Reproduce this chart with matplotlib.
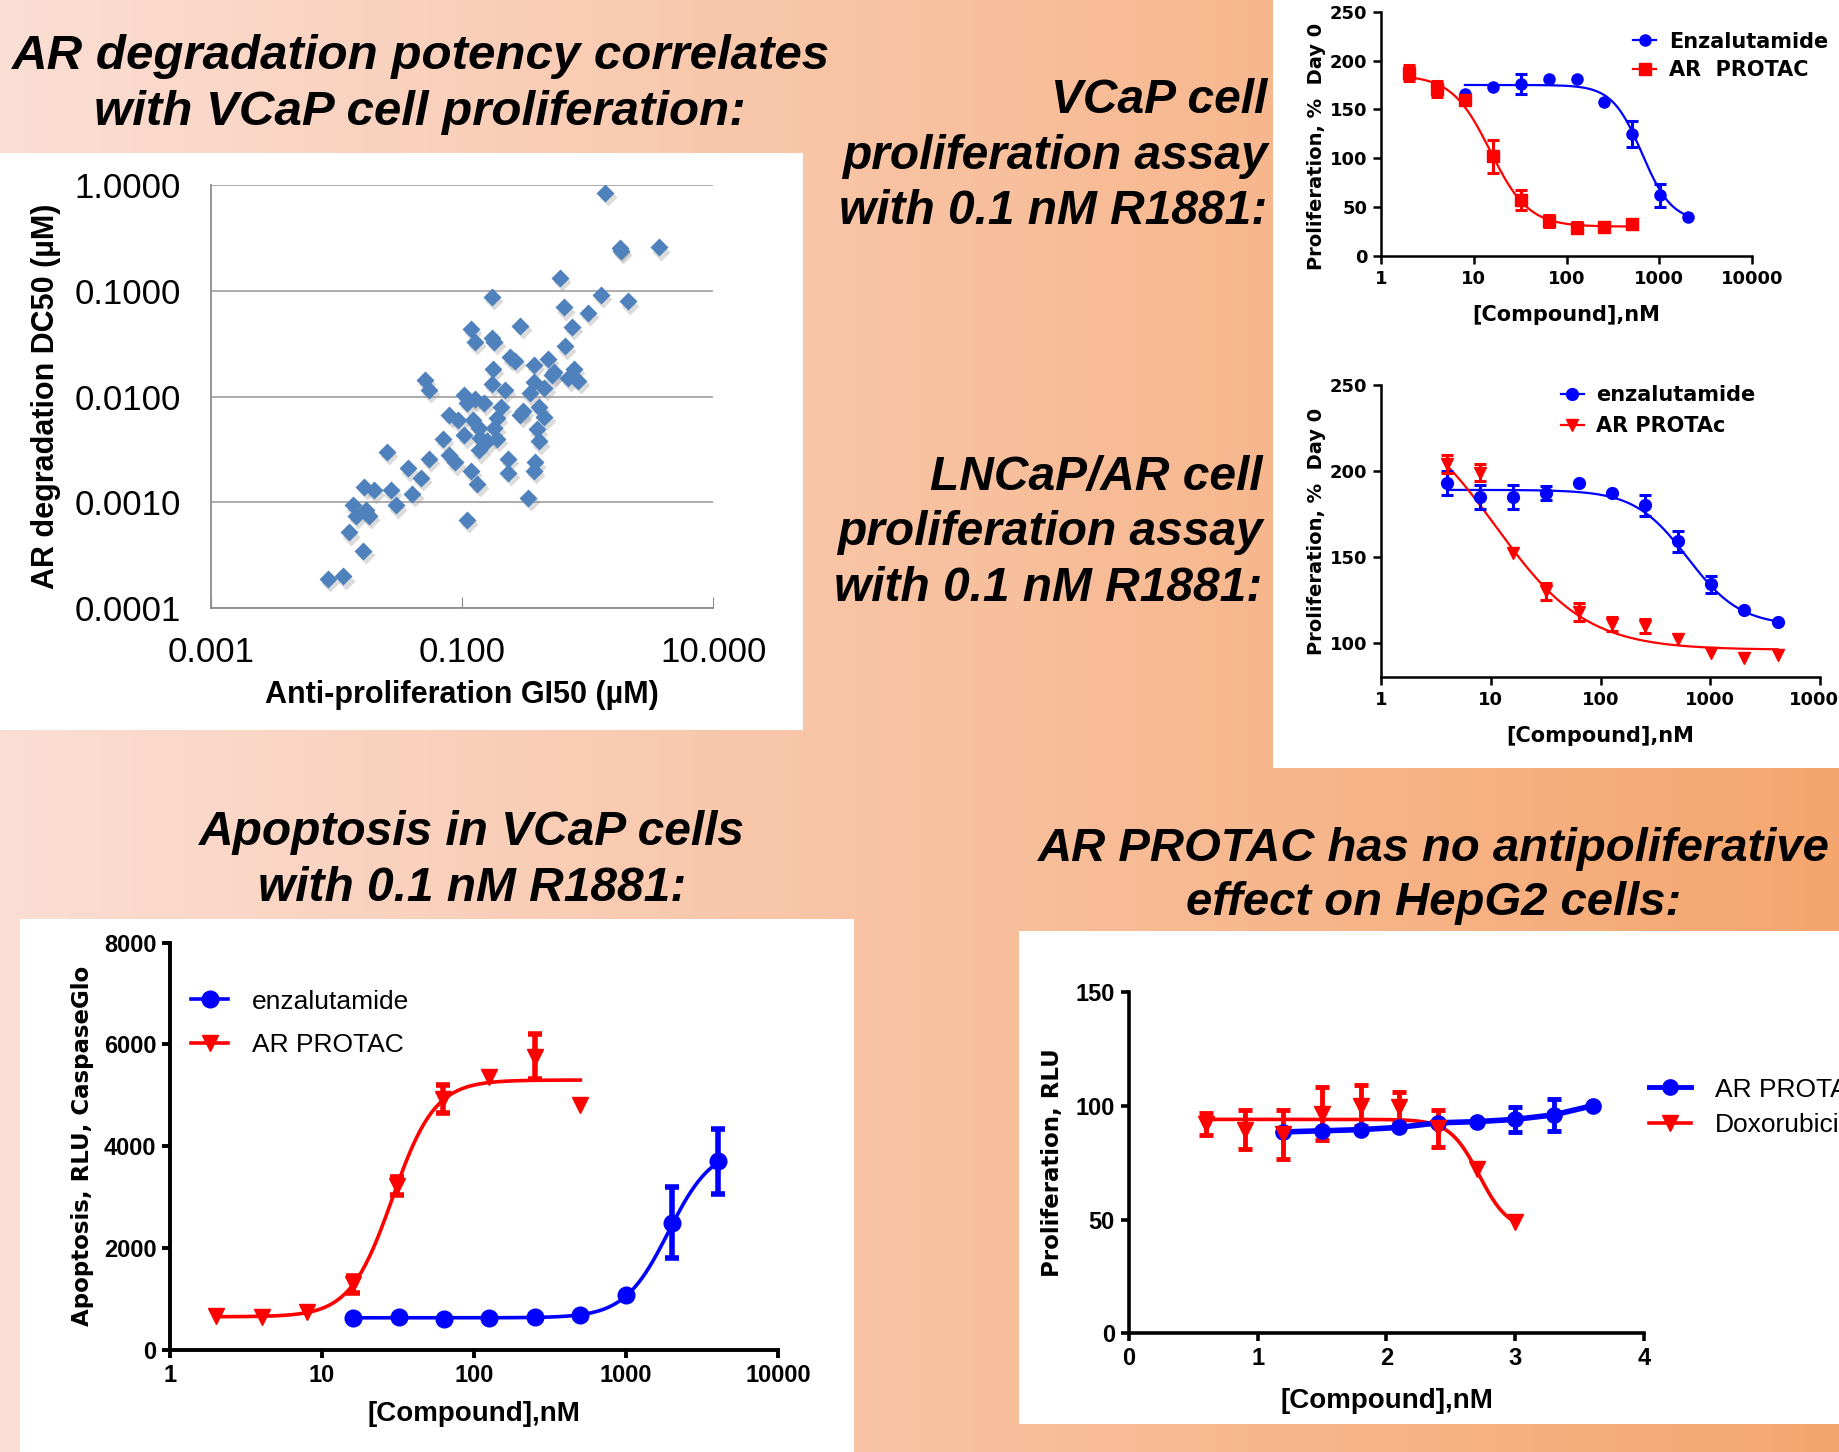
import numpy as np
import matplotlib
matplotlib.use('Agg')
import matplotlib.pyplot as plt
from matplotlib.lines import Line2D
from matplotlib.patches import Rectangle

# ---------------- data ----------------
# scatter: AR degradation DC50 vs anti-proliferation GI50 (uM)
gi50 = [1.38, 1.81, 1.83, 3.65, 0.60, 1.26, 2.09, 0.171, 0.64, 1.0,
        0.75, 0.29, 0.117, 0.125, 0.171, 0.18, 0.66, 0.24, 0.264, 0.37,
        0.48, 0.175, 0.54, 0.78, 0.84, 0.70, 0.37, 0.45, 0.0506, 0.054,
        0.171, 0.218, 0.343, 0.104, 0.148, 0.109, 0.204, 0.41, 0.45, 0.29,
        0.079, 0.092, 0.122, 0.189, 0.135, 0.18, 0.39, 0.104, 0.139, 0.189,
        0.41, 0.070, 0.025, 0.054, 0.079, 0.087, 0.135, 0.156, 0.0368, 0.0468,
        0.117, 0.132, 0.233, 0.37, 0.38, 0.336, 0.027, 0.040, 0.0166, 0.0197,
        0.0134, 0.0295, 0.0171, 0.0141, 0.0179, 0.108, 0.0125, 0.0163, 0.0085, 0.0113,
        0.305, 0.125, 0.23, 0.52]
dc50 = [0.85, 0.254, 0.24, 0.26, 0.134, 0.092, 0.080, 0.088, 0.070, 0.062,
        0.046, 0.047, 0.044, 0.033, 0.036, 0.033, 0.030, 0.0237, 0.0219, 0.0201,
        0.0228, 0.0185, 0.017, 0.0185, 0.0142, 0.015, 0.0138, 0.0122, 0.0144, 0.0117,
        0.0133, 0.0117, 0.0108, 0.0105, 0.0088, 0.0088, 0.0080, 0.0080, 0.0065, 0.0067,
        0.0067, 0.0060, 0.0060, 0.0063, 0.0051, 0.0051, 0.0049, 0.0043, 0.0041, 0.0040,
        0.0038, 0.0040, 0.0030, 0.0026, 0.0028, 0.0024, 0.0031, 0.0038, 0.0021, 0.0017,
        0.0020, 0.0015, 0.0019, 0.0020, 0.0024, 0.0011, 0.0013, 0.0012, 0.0014, 0.0013,
        0.00094, 0.00094, 0.00085, 0.00075, 0.00075, 0.00068, 0.00052, 0.00035, 0.00019, 0.00020,
        0.0074, 0.0095, 0.0026, 0.0160]

# VCaP proliferation (% Day 0)
vcap_enz_conc = [8, 16, 32, 64, 128, 256, 512, 1024, 2048]
vcap_enz_val = [166, 173, 176, 181, 181, 158, 125, 62, 40]
vcap_enz_err = [0, 0, 10, 0, 0, 0, 13, 12, 0]
vcap_pro_conc = [2, 4, 8, 16, 32, 64, 128, 256, 512]
vcap_pro_val = [187, 171, 160, 102, 57, 36, 29, 30, 33]
vcap_pro_err = [8, 8, 3, 17, 10, 6, 6, 3, 3]
# fitted curves: value at low conc, value at high conc, midpoint, hill slope
vcap_enz_fit = [175, 35, 650, 2.7]
vcap_pro_fit = [185, 30, 15, 2.1]

# LNCaP/AR proliferation (% Day 0)
lncap_conc = [4, 8, 16, 32, 64, 128, 256, 512, 1024, 2048, 4096]
lncap_enz_val = [193, 185, 185, 187, 193, 187, 180, 159, 134, 119, 112]
lncap_enz_err = [7, 7, 7, 4, 0, 0, 6, 6, 5, 0, 0]
lncap_pro_val = [204, 199, 152, 130, 118, 111, 110, 102, 94, 91, 93]
lncap_pro_err = [5, 5, 0, 5, 5, 4, 4, 0, 0, 0, 0]
lncap_enz_fit = [189, 110, 620, 1.8]
lncap_pro_fit = [240, 96, 11, 1.05]

# apoptosis, RLU CaspaseGlo
apop_enz_conc = [16, 32, 63, 125, 250, 500, 1000, 2000, 4000]
apop_enz_val = [620, 640, 600, 630, 640, 690, 1085, 2500, 3700]
apop_enz_err = [0, 0, 0, 0, 0, 0, 0, 700, 640]
apop_pro_conc = [2, 4, 8, 16, 31, 62, 125, 250, 500]
apop_pro_val = [660, 645, 745, 1290, 3220, 4930, 5360, 5760, 4810]
apop_pro_err = [0, 0, 0, 170, 170, 280, 0, 440, 0]
apop_enz_fit = [630, 4000, 1900, 3.0]
apop_pro_fit = [650, 5300, 29, 3.1]

# HepG2 proliferation (x is log concentration)
hep_pro_logc = [1.2, 1.5, 1.8, 2.1, 2.4, 2.7, 3.0, 3.3, 3.6]
hep_pro_val = [88.5, 89, 89.5, 90.5, 92.5, 93, 94, 96, 100]
hep_pro_err = [0, 0, 0, 0, 0, 0, 5.5, 7, 0]
hep_dox_logc = [0.6, 0.9, 1.2, 1.5, 1.8, 2.1, 2.4, 2.7, 3.0]
hep_dox_val = [92, 89.5, 87.5, 96.5, 100, 99.5, 90, 72, 49]
hep_dox_err = [5, 8.6, 10.7, 11.7, 9, 6.6, 8, 0, 0]
hep_dox_fit = [94, 45, 10 ** 2.72, 3.8]

BLUE = '#0000FF'
RED = '#FF0000'
DIAMOND = '#4F81BD'
WIDE = 'DejaVu Sans'

plt.rcParams['font.family'] = 'Liberation Sans'

# layout measured on a 1568 x 1237 view of the slide
W, H = 1568.0, 1237.0


def rect(l, t, r, b):
    return [l / W, 1 - b / H, (r - l) / W, (b - t) / H]


def fx(x):
    return x / W


def fy(y):
    return 1 - y / H


def logistic(x, low, high, mid, hill):
    return high + (low - high) / (1 + (x / mid) ** hill)


def bars(ax, x, y, err, color, lw, cap):
    x, y, err = np.asarray(x, float), np.asarray(y, float), np.asarray(err, float)
    m = err > 0
    ax.errorbar(x[m], y[m], yerr=err[m], fmt='none', ecolor=color,
                elinewidth=lw, capsize=cap, capthick=lw, zorder=3)


def prism(ax, lw, size, family):
    ax.set_facecolor('none')
    for s in ['top', 'right']:
        ax.spines[s].set_visible(False)
    for s in ['left', 'bottom']:
        ax.spines[s].set_linewidth(lw)
    ax.minorticks_off()
    ax.tick_params(direction='out', width=lw, length=6, labelsize=size, pad=4)
    plt.setp(ax.get_xticklabels() + ax.get_yticklabels(), fontweight='bold', family=family)


fig = plt.figure(figsize=(18.4, 14.52), dpi=100)

# background gradient + white panels
bg = fig.add_axes([0, 0, 1, 1], zorder=-10)
g = np.linspace(0, 1, 512)
left = np.array([251, 222, 212]) / 255
right = np.array([245, 166, 110]) / 255
grad = left[None, :] * (1 - g[:, None]) + right[None, :] * g[:, None]
bg.imshow(grad[None, :, :], aspect='auto', extent=[0, W, H, 0])
for (l, t, r, b) in [(0, 130, 684, 622), (1085, 0, 1568, 654),
                     (17, 783, 728, 1237), (868, 793, 1568, 1213)]:
    bg.add_patch(Rectangle((l, t), r - l, b - t, color='white', lw=0))
bg.set_xlim(0, W)
bg.set_ylim(H, 0)
bg.axis('off')

title_kw = dict(fontweight='bold', style='italic', color='black', linespacing=1.3)
fig.text(fx(358), fy(72), 'AR degradation potency correlates\nwith VCaP cell proliferation:',
         ha='center', va='center', multialignment='center', fontsize=35.5, **title_kw)
fig.text(fx(1080), fy(133), 'VCaP cell\nproliferation assay\nwith 0.1 nM R1881:',
         ha='right', va='center', multialignment='right', fontsize=34.5, **title_kw)
fig.text(fx(1076), fy(454), 'LNCaP/AR cell\nproliferation assay\nwith 0.1 nM R1881:',
         ha='right', va='center', multialignment='right', fontsize=34.5, **title_kw)
fig.text(fx(402), fy(733), 'Apoptosis in VCaP cells\nwith 0.1 nM R1881:',
         ha='center', va='center', multialignment='center', fontsize=34.5, **title_kw)
fig.text(fx(1222), fy(746), 'AR PROTAC has no antipoliferative\neffect on HepG2 cells:',
         ha='center', va='center', multialignment='center', fontsize=34, **title_kw)

# ---------------- scatter ----------------
ax1 = fig.add_axes(rect(180, 158, 608, 518))
ax1.set_xscale('log')
ax1.set_yscale('log')
ax1.plot(np.array(gi50) * 1.04, np.array(dc50) / 1.1, 'D', color='#9a9a9a', alpha=0.35,
         ms=9.5, mec='none', zorder=2)
ax1.plot(gi50, dc50, 'D', color=DIAMOND, ms=9.5, mec='none', zorder=3)
ax1.set_xlim(0.001, 10)
ax1.set_ylim(0.0001, 1)
ax1.set_xticks([0.001, 0.1, 10], labels=['0.001', '0.100', '10.000'])
ax1.set_yticks([0.0001, 0.001, 0.01, 0.1, 1],
               labels=['0.0001', '0.0010', '0.0100', '0.1000', '1.0000'])
ax1.minorticks_off()
ax1.yaxis.grid(True, color='#a6a6a6', lw=1.3)
ax1.set_axisbelow(True)
for s in ['top', 'right']:
    ax1.spines[s].set_visible(False)
for s in ['left', 'bottom']:
    ax1.spines[s].set_color('#8c8c8c')
    ax1.spines[s].set_linewidth(1.3)
ax1.tick_params(axis='y', length=0, pad=22, labelsize=25)
ax1.tick_params(axis='x', direction='in', length=8, color='#8c8c8c', pad=20, labelsize=25)
ax1.set_xlabel('Anti-proliferation GI50 (µM)', fontsize=22, fontweight='bold')
ax1.set_ylabel('AR degradation DC50 (µM)', fontsize=22, fontweight='bold')
ax1.xaxis.set_label_coords(0.5, -0.17)
ax1.yaxis.set_label_coords(-0.30, 0.5)

logx_ticks = [1, 10, 100, 1000, 10000]
logx_labels = ['1', '10', '100', '1000', '10000']

# ---------------- VCaP ----------------
ax2 = fig.add_axes(rect(1177, 10, 1493, 218))
ax2.set_xscale('log')
xs = np.logspace(np.log10(8), np.log10(2048), 300)
ax2.plot(xs, logistic(xs, *vcap_enz_fit), color=BLUE, lw=1.6)
xs = np.logspace(np.log10(2), np.log10(512), 300)
ax2.plot(xs, logistic(xs, *vcap_pro_fit), color=RED, lw=1.6)
bars(ax2, vcap_enz_conc, vcap_enz_val, vcap_enz_err, BLUE, 2.2, 4)
bars(ax2, vcap_pro_conc, vcap_pro_val, vcap_pro_err, RED, 2.2, 4)
ax2.plot(vcap_enz_conc, vcap_enz_val, 'o', color=BLUE, ms=8, zorder=4)
ax2.plot(vcap_pro_conc, vcap_pro_val, 's', color=RED, ms=8, zorder=4)
ax2.set_xlim(1, 10000)
ax2.set_ylim(0, 250)
ax2.set_xticks(logx_ticks, labels=logx_labels)
ax2.set_yticks([0, 50, 100, 150, 200, 250])
prism(ax2, 1.8, 13, WIDE)
ax2.set_xlabel('[Compound],nM', fontsize=15, fontweight='bold', family=WIDE)
ax2.set_ylabel('Proliferation, %  Day 0', fontsize=14, fontweight='bold', family=WIDE)
ax2.xaxis.set_label_coords(0.5, -0.2)
ax2.yaxis.set_label_coords(-0.15, 0.45)
ax2.legend(handles=[Line2D([], [], color=BLUE, marker='o', ms=8, lw=1.6),
                    Line2D([], [], color=RED, marker='s', ms=8, lw=1.6)],
           labels=['Enzalutamide', 'AR  PROTAC'], loc='upper left',
           bbox_to_anchor=(fx(1392), fy(27)), bbox_transform=fig.transFigure,
           frameon=False, handlelength=1.1, handletextpad=0.6, borderpad=0,
           borderaxespad=0, labelspacing=0.4, prop=dict(size=15, weight='bold', family=WIDE))

# ---------------- LNCaP/AR ----------------
ax3 = fig.add_axes(rect(1177, 328, 1551, 577))
ax3.set_xscale('log')
xs = np.logspace(np.log10(4), np.log10(4096), 300)
ax3.plot(xs, logistic(xs, *lncap_enz_fit), color=BLUE, lw=1.6)
ax3.plot(xs, logistic(xs, *lncap_pro_fit), color=RED, lw=1.6)
bars(ax3, lncap_conc, lncap_enz_val, lncap_enz_err, BLUE, 2.2, 4)
bars(ax3, lncap_conc, lncap_pro_val, lncap_pro_err, RED, 2.2, 4)
ax3.plot(lncap_conc, lncap_enz_val, 'o', color=BLUE, ms=8.5, zorder=4)
ax3.plot(lncap_conc, lncap_pro_val, 'v', color=RED, ms=8.5, zorder=4)
ax3.set_xlim(1, 10000)
ax3.set_ylim(80, 250)
ax3.set_xticks(logx_ticks, labels=logx_labels)
ax3.set_yticks([100, 150, 200, 250])
prism(ax3, 1.8, 13, WIDE)
ax3.set_xlabel('[Compound],nM', fontsize=15, fontweight='bold', family=WIDE)
ax3.set_ylabel('Proliferation, %  Day 0', fontsize=14, fontweight='bold', family=WIDE)
ax3.xaxis.set_label_coords(0.5, -0.165)
ax3.yaxis.set_label_coords(-0.125, 0.5)
ax3.legend(handles=[Line2D([], [], color=BLUE, marker='o', ms=8.5, lw=1.6),
                    Line2D([], [], color=RED, marker='v', ms=8.5, lw=1.6)],
           labels=['enzalutamide', 'AR PROTAc'], loc='upper left',
           bbox_to_anchor=(fx(1330), fy(328)), bbox_transform=fig.transFigure,
           frameon=False, handlelength=1.1, handletextpad=0.6, borderpad=0,
           borderaxespad=0, labelspacing=0.55, prop=dict(size=15, weight='bold', family=WIDE))

# ---------------- apoptosis ----------------
ax4 = fig.add_axes(rect(145, 803, 663, 1150))
ax4.set_xscale('log')
xs = np.logspace(np.log10(2), np.log10(500), 300)
ax4.plot(xs, logistic(xs, *apop_pro_fit), color=RED, lw=2.6)
xs = np.logspace(np.log10(16), np.log10(4000), 300)
ax4.plot(xs, logistic(xs, *apop_enz_fit), color=BLUE, lw=2.6)
bars(ax4, apop_enz_conc, apop_enz_val, apop_enz_err, BLUE, 4, 5)
bars(ax4, apop_pro_conc, apop_pro_val, apop_pro_err, RED, 4, 5)
ax4.plot(apop_enz_conc, apop_enz_val, 'o', color=BLUE, ms=12, zorder=4)
ax4.plot(apop_pro_conc, apop_pro_val, 'v', color=RED, ms=12, zorder=4)
ax4.set_xlim(1, 10000)
ax4.set_ylim(0, 8000)
ax4.set_xticks(logx_ticks, labels=logx_labels)
ax4.set_yticks([0, 2000, 4000, 6000, 8000])
prism(ax4, 2.8, 17, 'Liberation Sans')
ax4.set_xlabel('[Compound],nM', fontsize=20, fontweight='bold')
ax4.set_ylabel('Apoptosis, RLU, CaspaseGlo', fontsize=16.5, fontweight='bold', family=WIDE)
ax4.xaxis.set_label_coords(0.5, -0.125)
ax4.yaxis.set_label_coords(-0.125, 0.5)
ax4.legend(handles=[Line2D([], [], color=BLUE, marker='o', ms=12, lw=2.6),
                    Line2D([], [], color=RED, marker='v', ms=12, lw=2.6)],
           labels=['enzalutamide', 'AR PROTAC'], loc='upper left',
           bbox_to_anchor=(fx(163), fy(843)), bbox_transform=fig.transFigure,
           frameon=False, handlelength=1.4, handletextpad=0.9, borderpad=0,
           borderaxespad=0, labelspacing=0.75, prop=dict(size=19))

# ---------------- HepG2 ----------------
ax5 = fig.add_axes(rect(962, 845, 1401, 1136))
xs = np.linspace(0.6, 3.0, 300)
ax5.plot(xs, logistic(10 ** xs, *hep_dox_fit), color=RED, lw=2.6)
ax5.plot(hep_pro_logc, hep_pro_val, '-', color=BLUE, lw=4)
bars(ax5, hep_dox_logc, hep_dox_val, hep_dox_err, RED, 3.5, 5)
bars(ax5, hep_pro_logc, hep_pro_val, hep_pro_err, BLUE, 3.5, 5)
ax5.plot(hep_pro_logc, hep_pro_val, 'o', color=BLUE, ms=11, zorder=4)
ax5.plot(hep_dox_logc, hep_dox_val, 'v', color=RED, ms=11, zorder=4)
ax5.set_xlim(0, 4)
ax5.set_ylim(0, 150)
ax5.set_xticks([0, 1, 2, 3, 4])
ax5.set_yticks([0, 50, 100, 150])
prism(ax5, 2.6, 17, 'Liberation Sans')
ax5.set_xlabel('[Compound],nM', fontsize=20, fontweight='bold')
ax5.set_ylabel('Proliferation, RLU', fontsize=16.5, fontweight='bold', family=WIDE)
ax5.xaxis.set_label_coords(0.5, -0.16)
ax5.yaxis.set_label_coords(-0.125, 0.5)
ax5.legend(handles=[Line2D([], [], color=BLUE, marker='o', ms=11, lw=3.5),
                    Line2D([], [], color=RED, marker='v', ms=11, lw=2.6)],
           labels=['AR PROTAC', 'Doxorubicin'], loc='upper left',
           bbox_to_anchor=(fx(1405), fy(918)), bbox_transform=fig.transFigure,
           frameon=False, handlelength=1.6, handletextpad=0.9, borderpad=0,
           borderaxespad=0, labelspacing=0.45, prop=dict(size=19))

fig.savefig('out.png', dpi=100)
